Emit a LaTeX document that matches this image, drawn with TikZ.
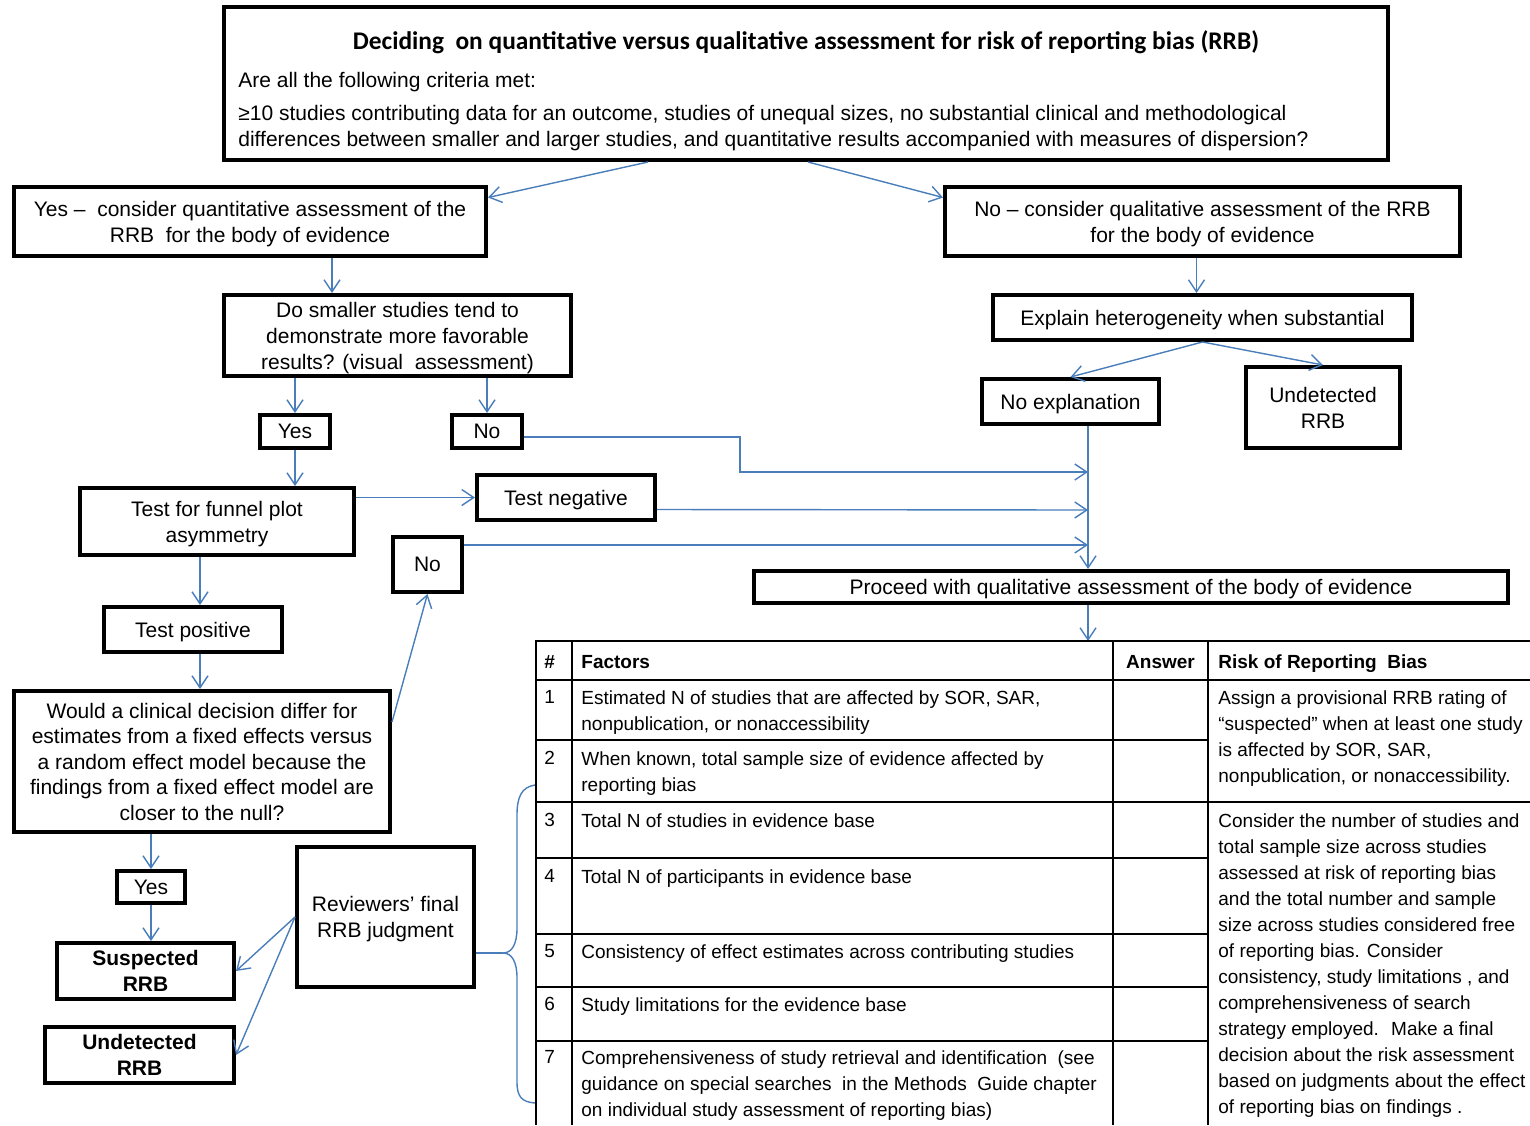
\documentclass[tikz,border=0pt]{standalone}
\usepackage{fontspec}
\setmainfont{Liberation Sans}
\newfontfamily\titlefont{Carlito}
\usetikzlibrary{arrows.meta}
\definecolor{flowblue}{RGB}{74,126,187}
\newcommand\fcfont{\fontsize{10.5}{13}\selectfont}
\newcommand\tbfont{\fontsize{9.5}{13}\selectfont}
\newcommand\flowbox[7][]{\node[box,minimum width={(#5-#3-4)*0.5pt},minimum height={(#6-#4-4)*0.5pt},#1] (#2) at ({(#3+#5)/2},{(#4+#6)/2}) {#7};}
\begin{document}
\begin{tikzpicture}[x=0.5pt,y=-0.5pt,
  box/.style={draw,line width=2pt,inner sep=0pt,align=center,font=\fcfont,text depth=0pt},
  conn/.style={draw=flowblue,line width=0.7pt},
  arr/.style={conn,-{Straight Barb[length=6pt,width=8pt]}},
  tline/.style={draw,line width=1pt},
  ttext/.style={anchor=north west,inner sep=0pt,align=left,font=\tbfont},
  thead/.style={anchor=base west,inner sep=0pt,font=\tbfont\bfseries},
]
\useasboundingbox (0,0) rectangle (1530,1125);

% ---------- boxes ----------
\flowbox{top}{222}{5}{1390}{162}{}
\node[font=\titlefont\fontsize{12.7}{14}\selectfont\bfseries,inner sep=0pt] (title) at (806,42) {Deciding~ on quantitative versus qualitative assessment for risk of reporting bias (RRB)};
\node[anchor=north west,inner sep=0pt,align=left,font=\fcfont] (criteria) at (238,72) {Are all the following criteria met:\\[3.5pt]
≥10 studies contributing data for an outcome, studies of unequal sizes, no substantial clinical and methodological\\
differences between smaller and larger studies, and quantitative results accompanied with measures of dispersion?};

\flowbox{yes1}{12}{185}{488}{258}{Yes –~ consider quantitative assessment of the\\RRB~ for the body of evidence}
\flowbox{no1}{943}{185}{1462}{258}{No – consider qualitative assessment of the RRB\\for the body of evidence}
\flowbox{smaller}{222}{293}{573}{378}{Do smaller studies tend to\\demonstrate more favorable\\results? (visual~ assessment)}
\flowbox{explain}{991}{293}{1414}{342}{Explain heterogeneity when substantial}
\flowbox{noexpl}{980}{377}{1161}{426}{No explanation}
\flowbox{undet1}{1244}{365}{1402}{450}{Undetected\\RRB}
\flowbox{yes2}{258}{413}{332}{450}{Yes}
\flowbox{no2}{450}{413}{524}{450}{No}
\flowbox{funnel}{78}{486}{356}{557}{Test for funnel plot\\asymmetry}
\flowbox{testneg}{475}{473}{657}{522}{Test negative}
\flowbox{no3}{391}{535}{464}{594}{No}
\flowbox{proceed}{752}{569}{1510}{605}{Proceed with qualitative assessment of the body of evidence}
\flowbox{testpos}{102}{605}{284}{654}{Test positive}
\flowbox[font=\fontsize{10.5}{12.75}\selectfont]{would}{12}{689}{392}{834}{Would a clinical decision differ for\\estimates from a fixed effects versus\\a random effect model because the\\findings from a fixed effect model are\\closer to the null?}
\flowbox{yes3}{115}{869}{187}{905}{Yes}
\flowbox[font=\fcfont\bfseries]{susp}{55}{941}{236}{1001}{Suspected\\RRB}
\flowbox[font=\fcfont\bfseries]{undet2}{43}{1025}{236}{1085}{Undetected\\RRB}
\flowbox{reviewers}{295}{845}{476}{989}{Reviewers’ final\\RRB judgment}

% ---------- helper coordinates ----------
\coordinate (j1) at (1088,472);
\coordinate (bend) at (740,472);
\coordinate (j2) at (1088,510);
\coordinate (j3) at (1088,545);
\coordinate (tabtop) at (1088,641);
\coordinate (bracetip) at (503,953);

% ---------- connectors ----------
\draw[arr] ([xshift=-79pt]top.south) -- ([yshift=12pt]yes1.east);
\draw[arr] ([xshift=1pt]top.south) -- ([yshift=12pt]no1.west);
\draw[arr] ([xshift=41pt]yes1.south) -- ([xshift=41pt]yes1.south |- smaller.north);
\draw[arr] ([xshift=-3pt]no1.south) -- ([xshift=-3pt]explain.north);
\draw[arr] (explain.south) -- (noexpl.north);
\draw[arr] (explain.south) -- (undet1.north);
\draw[arr] (smaller.south -| yes2.north) -- (yes2.north);
\draw[arr] (smaller.south -| no2.north) -- (no2.north);
\draw[arr] ([yshift=-2.75pt]no2.east) -| (bend) -- (j1);
\draw[arr] (yes2.south) -- (yes2.south |- funnel.north);
\draw[arr] (funnel.east |- testneg.west) -- (testneg.west);
\draw[arr] ([yshift=-6pt]testneg.east) -- (j2);
\draw[arr] ([yshift=9.75pt]no3.east) -- (j3);
\draw[arr] ([xshift=8.75pt]noexpl.south) -- ([xshift=8.75pt]noexpl.south |- proceed.north);
\draw[arr] (proceed.south -| tabtop) -- (tabtop);
\draw[arr] ([xshift=3.5pt]testpos.north |- funnel.south) -- ([xshift=3.5pt]testpos.north);
\draw[arr] ([xshift=3.5pt]testpos.south) -- ([xshift=3.5pt]testpos.south |- would.north);
\draw[arr] ([yshift=19.75pt]would.east) -- (no3.south);
\draw[arr] (would.south -| yes3.north) -- (yes3.north);
\draw[arr] (yes3.south) -- (yes3.south |- susp.north);
\draw[arr] (reviewers.west) -- (susp.east);
\draw[arr] (reviewers.west) -- (undet2.east);
\draw[conn] ([yshift=-18pt]reviewers.east) -- (bracetip);
\draw[conn] (535,785) .. controls (521,787) and (517,798) .. (517,815) -- (517,928)
  .. controls (517,944) and (512,953) .. (bracetip)
  .. controls (512,953) and (517,962) .. (517,978) -- (517,1082)
  .. controls (517,1097) and (522,1102) .. (535,1103);

% ---------- table ----------
\draw[tline] (536,641) -- (1530,641);
\draw[tline] (536,680) -- (1530,680);
\draw[tline] (536,802) -- (1530,802);
\foreach \yy in {740,858,934,987,1041} \draw[tline] (536,\yy) -- (1208,\yy);
\foreach \xx in {536,572,1113,1208} \draw[tline] (\xx,640) -- (\xx,1125);

\node[thead] (hnum) at (544,668) {\#};
\node[thead] (hfac) at (581,668) {Factors};
\node[thead,anchor=base] (hans) at (1160.5,668) {Answer};
\node[thead] (hrisk) at (1218,668) {Risk of Reporting~ Bias};

\node[ttext] (n1) at (544,690) {1};
\node[ttext] (n2) at (544,751) {2};
\node[ttext] (n3) at (544,813) {3};
\node[ttext] (n4) at (544,869) {4};
\node[ttext] (n5) at (544,944) {5};
\node[ttext] (n6) at (544,997) {6};
\node[ttext] (n7) at (544,1050) {7};

\node[ttext] (f1) at (581,690) {Estimated N of studies that are affected by SOR, SAR,\\nonpublication, or nonaccessibility};
\node[ttext] (f2) at (581,751) {When known, total sample size of evidence affected by\\reporting bias};
\node[ttext] (f3) at (581,813) {Total N of studies in evidence base};
\node[ttext] (f4) at (581,869) {Total N of participants in evidence base};
\node[ttext] (f5) at (581,944) {Consistency of effect estimates across contributing studies};
\node[ttext] (f6) at (581,997) {Study limitations for the evidence base};
\node[ttext] (f7) at (581,1050) {Comprehensiveness of study retrieval and identification~ (see\\guidance on special searches~ in the Methods~ Guide chapter\\on individual study assessment of reporting bias)};

\node[ttext] (rk1) at (1218,690) {Assign a provisional RRB rating of\\“suspected” when at least one study\\is affected by SOR, SAR,\\nonpublication, or nonaccessibility.};
\node[ttext] (rk2) at (1218,813) {Consider the number of studies and\\total sample size across studies\\assessed at risk of reporting bias\\and the total number and sample\\size across studies considered free\\of reporting bias. Consider\\consistency, study limitations , and\\comprehensiveness of search\\strategy employed.~ Make a final\\decision about the risk assessment\\based on judgments about the effect\\of reporting bias on findings .};
\end{tikzpicture}
\end{document}
